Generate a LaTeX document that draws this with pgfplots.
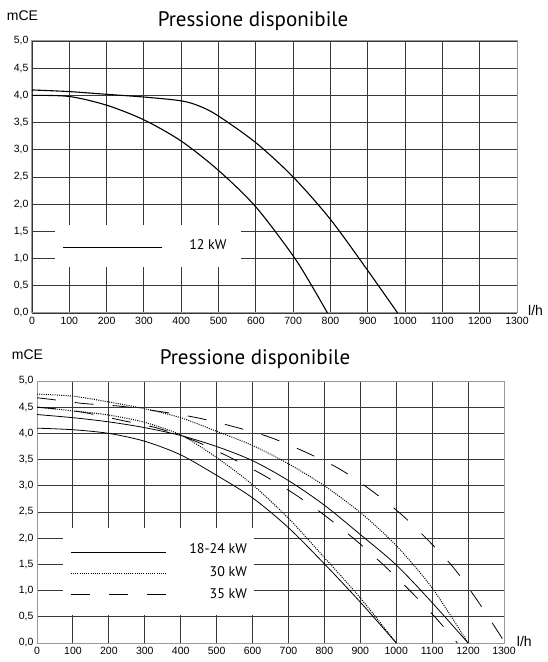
\documentclass[border=0pt]{standalone}
\usepackage{fontspec}
\setmainfont{Liberation Sans}
\newfontfamily\titlefont{PT Sans}
\usepackage{pgfplots}
\pgfplotsset{compat=1.18}

\tikzset{dots/.style={line width=1pt, dash pattern=on 1pt off 1.2pt}}
\pgfplotsset{
  chart/.style={
    scale only axis, anchor=south west,
    xmin=0, xmax=1300, ymin=0, ymax=5,
    xtick={0,100,200,300,400,500,600,700,800,900,1000,1100,1200,1300},
    ytick={0,0.5,1,1.5,2,2.5,3,3.5,4,4.5,5},
    grid=major,
    major grid style={black!78, line width=0.9pt},
    axis line style={black!40, line width=1pt},
    tick style={draw=none},
    tick label style={font=\fontsize{10.5}{11}\selectfont},
    /pgf/number format/assume math mode=true,
    xticklabel style={/pgf/number format/1000 sep={}, yshift=-1pt},
    yticklabel style={/pgf/number format/.cd, use comma, fixed, fixed zerofill, precision=1},
  },
  curve/.style={black, line width=1.1pt, smooth, no markers},
  thin curve/.style={black, line width=0.8pt, smooth, no markers},
}

\begin{document}
\begin{tikzpicture}[x=1pt, y=1pt]
\path[use as bounding box] (0,0) rectangle (547,662);

% ---- upper chart: 12 kW
\begin{axis}[chart, at={(32pt,349pt)}, width=485pt, height=272pt]
\addplot[curve] coordinates {(0,4.1) (100,4.07) (200,4.02) (300,3.97) (400,3.9) (450,3.8) (500,3.62) (600,3.13) (700,2.5) (800,1.72) (900,0.78) (980,0)};
\addplot[curve] coordinates {(0,4.0) (100,3.98) (200,3.82) (300,3.55) (400,3.16) (500,2.62) (600,1.95) (700,1.05) (750,0.5) (792,0)};
\fill[white] (axis cs:62,0.85) rectangle (axis cs:560,1.62);
\draw[line width=1.1pt] (axis cs:83,1.2) -- (axis cs:348,1.2);
\node[anchor=east, inner sep=0pt, font=\titlefont\fontsize{14}{14}\selectfont] at (axis cs:522,1.26) {12 kW};
\end{axis}

% ---- lower chart: 18-24, 30, 35 kW
\begin{axis}[chart, at={(37pt,19pt)}, width=467pt, height=262pt]
% 18-24 kW
\addplot[thin curve] coordinates {(0,4.1) (100,4.07) (200,4.0) (300,3.85) (400,3.59) (500,3.2) (600,2.77) (700,2.2) (800,1.51) (900,0.78) (1000,0)};
\addplot[thin curve] coordinates {(0,4.36) (100,4.3) (200,4.22) (300,4.11) (400,3.96) (500,3.75) (600,3.48) (700,3.1) (800,2.63) (900,2.07) (1000,1.49) (1100,0.77) (1200,0)};
% 30 kW
\addplot[thin curve, dots] coordinates {(0,4.75) (100,4.71) (200,4.6) (300,4.47) (400,4.3) (500,4.04) (600,3.77) (700,3.42) (800,3.0) (900,2.49) (1000,1.86) (1100,1.05) (1200,0)};
\addplot[thin curve, dots] coordinates {(0,4.5) (100,4.43) (200,4.35) (300,4.21) (400,3.97) (500,3.54) (600,3.02) (700,2.38) (800,1.63) (900,0.86) (1000,0)};
% 35 kW
\addplot[thin curve, dash pattern=on 19pt off 19pt] coordinates {(0,4.68) (50,4.64) (130,4.57) (230,4.52) (340,4.42) (445,4.3) (547,4.13) (647,3.93) (745,3.65) (840,3.33) (927,2.93) (1010,2.48) (1086,1.98) (1158,1.45) (1220,0.87) (1277,0.28) (1303,0)};
\addplot[thin curve, dash pattern=on 19pt off 19pt] coordinates {(0,4.5) (50,4.47) (130,4.4) (235,4.25) (336,4.1) (438,3.86) (532,3.56) (626,3.22) (715,2.85) (800,2.44) (884,1.98) (963,1.5) (1038,1.0) (1110,0.48) (1170,0)};
\fill[white] (axis cs:72,0.53) rectangle (axis cs:604,2.19);
\draw[line width=0.9pt] (axis cs:94,1.73) -- (axis cs:360,1.73);
\draw[dots] (axis cs:94,1.33) -- (axis cs:360,1.33);
\draw[line width=0.9pt, dash pattern=on 19pt off 19pt] (axis cs:94,0.92) -- (axis cs:360,0.92);
\node[anchor=east, inner sep=0pt, font=\titlefont\fontsize{14}{14}\selectfont] at (axis cs:585,1.81) {18-24 kW};
\node[anchor=east, inner sep=0pt, font=\titlefont\fontsize{14}{14}\selectfont] at (axis cs:585,1.355) {30 kW};
\node[anchor=east, inner sep=0pt, font=\titlefont\fontsize{14}{14}\selectfont] at (axis cs:585,0.935) {35 kW};
\end{axis}

% ---- titles and axis names
\node[anchor=base, inner sep=0pt, font=\titlefont\fontsize{21}{21}\selectfont] at (253,635.5) {Pressione disponibile};
\node[anchor=base, inner sep=0pt, font=\titlefont\fontsize{21}{21}\selectfont] at (255,297) {Pressione disponibile};
\node[anchor=base west, inner sep=0pt, font=\fontsize{14}{14}\selectfont] at (6.7,641.3) {mCE};
\node[anchor=base west, inner sep=0pt, font=\fontsize{14}{14}\selectfont] at (11.7,302) {mCE};
\node[anchor=base west, inner sep=0pt, font=\fontsize{14}{14}\selectfont] at (528,346) {l/h};
\node[anchor=base west, inner sep=0pt, font=\fontsize{14}{14}\selectfont] at (516.7,16) {l/h};
\end{tikzpicture}
\end{document}
